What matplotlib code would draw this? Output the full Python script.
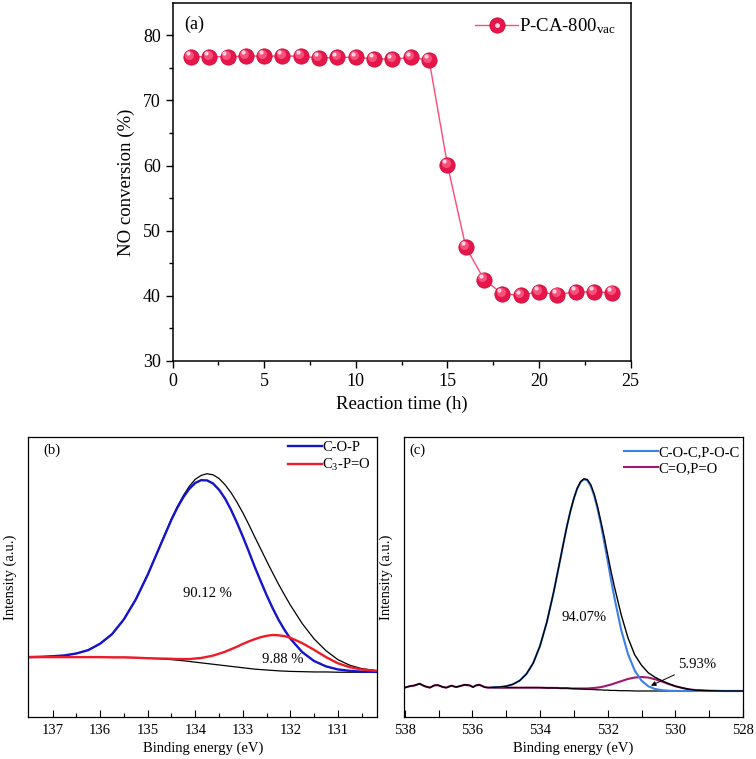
import numpy as np
import matplotlib
matplotlib.use('Agg')
import matplotlib.pyplot as plt
import matplotlib.transforms as mtransforms

plt.rcParams['font.family'] = ['Liberation Serif', 'DejaVu Serif']
plt.rcParams['mathtext.fontset'] = 'custom'
plt.rcParams['mathtext.rm'] = 'Liberation Serif'
plt.rcParams['mathtext.it'] = 'Liberation Serif:italic'

# (a) NO conversion vs reaction time
time_h = [1, 2, 3, 4, 5, 6, 7, 8, 9, 10, 11, 12, 13, 14, 15, 16, 17, 18, 19, 20, 21, 22, 23, 24]
no_conv = [76.7, 76.7, 76.7, 76.8, 76.8, 76.8, 76.8, 76.5, 76.6, 76.6, 76.4, 76.3,
           76.6, 76.2, 60.1, 47.5, 42.5, 40.3, 40.1, 40.6, 40.2, 40.6, 40.6, 40.5]

# (b) P 2p fit (intensity in arbitrary units, 0..1 of the axis)
be_b = [137.5, 137.25, 137.0, 136.75, 136.5, 136.25, 136.0, 135.75, 135.5, 135.25,
        135.0, 134.75, 134.5, 134.375, 134.25, 134.125, 134.0, 133.875, 133.75, 133.625,
        133.5, 133.375, 133.25, 133.125, 133.0, 132.875, 132.75, 132.625, 132.5, 132.375,
        132.25, 132.125, 132.0, 131.75, 131.5, 131.25, 131.0, 130.75, 130.5, 130.15]
bg_b = [0.214, 0.214, 0.214, 0.214, 0.214, 0.214, 0.214, 0.213, 0.213, 0.212,
        0.210, 0.208, 0.205, 0.203, 0.201, 0.1985, 0.196, 0.1935, 0.191, 0.1885,
        0.186, 0.1835, 0.181, 0.1785, 0.176, 0.1735, 0.171, 0.1695, 0.168, 0.1665,
        0.165, 0.164, 0.163, 0.162, 0.161, 0.161, 0.160, 0.160, 0.160, 0.160]
cop_b = [0.214, 0.215, 0.217, 0.220, 0.227, 0.239, 0.262, 0.296, 0.349, 0.420,
         0.508, 0.607, 0.705, 0.748, 0.785, 0.815, 0.836, 0.846, 0.845, 0.834,
         0.812, 0.781, 0.741, 0.695, 0.645, 0.592, 0.537, 0.486, 0.436, 0.390,
         0.348, 0.312, 0.280, 0.232, 0.200, 0.181, 0.170, 0.165, 0.162, 0.161]
c3po_b = [0.214, 0.214, 0.214, 0.214, 0.214, 0.214, 0.214, 0.213, 0.213, 0.212,
          0.210, 0.209, 0.208, 0.207, 0.207, 0.207, 0.209, 0.211, 0.215, 0.2195,
          0.226, 0.233, 0.242, 0.251, 0.261, 0.270, 0.278, 0.285, 0.290, 0.293,
          0.292, 0.289, 0.283, 0.264, 0.240, 0.214, 0.192, 0.178, 0.170, 0.164]
env_b = [0.214, 0.215, 0.217, 0.220, 0.227, 0.239, 0.262, 0.296, 0.349, 0.420,
         0.508, 0.608, 0.708, 0.752, 0.791, 0.824, 0.849, 0.863, 0.869, 0.865,
         0.852, 0.830, 0.802, 0.768, 0.730, 0.688, 0.644, 0.601, 0.558, 0.516,
         0.475, 0.437, 0.400, 0.334, 0.279, 0.237, 0.205, 0.185, 0.173, 0.165]

# (c) O 1s fit
be_c_noise = [538.0, 537.85, 537.7, 537.56, 537.41, 537.26, 537.12, 537.02, 536.87, 536.77,
              536.62, 536.48, 536.38, 536.23, 536.08, 535.98, 535.89, 535.79, 535.64, 535.54]
noise_c = [0.105, 0.110, 0.113, 0.119, 0.110, 0.105, 0.113, 0.114, 0.107, 0.105,
           0.112, 0.107, 0.110, 0.115, 0.113, 0.107, 0.113, 0.115, 0.107, 0.105]
be_c = [535.4, 535.2, 535.0, 534.8, 534.6, 534.4, 534.2, 534.0, 533.8, 533.6,
        533.5, 533.4, 533.3, 533.2, 533.1, 533.0, 532.9, 532.8, 532.7, 532.6,
        532.5, 532.4, 532.3, 532.2, 532.1, 532.0, 531.9, 531.8, 531.6, 531.4,
        531.2, 531.0, 530.8, 530.6, 530.4, 530.2, 530.0, 529.8, 529.6, 529.4,
        529.2, 529.0, 528.6, 528.2, 528.0]
bg_c = [0.105, 0.105, 0.105, 0.105, 0.105, 0.105, 0.105, 0.105, 0.104, 0.104,
        0.1036, 0.103, 0.1029, 0.103, 0.102, 0.101, 0.1008, 0.100, 0.0996, 0.099,
        0.0983, 0.098, 0.0971, 0.097, 0.096, 0.096, 0.095, 0.095, 0.094, 0.094,
        0.093, 0.093, 0.093, 0.093, 0.093, 0.093, 0.093, 0.093, 0.093, 0.093,
        0.093, 0.093, 0.093, 0.093, 0.093]
coc_c = [0.106, 0.107, 0.110, 0.117, 0.130, 0.154, 0.193, 0.254, 0.338, 0.444,
         0.504, 0.564, 0.625, 0.684, 0.736, 0.780, 0.816, 0.839, 0.849, 0.845,
         0.825, 0.791, 0.744, 0.688, 0.624, 0.558, 0.490, 0.426, 0.311, 0.225,
         0.166, 0.130, 0.110, 0.100, 0.096, 0.094, 0.093, 0.093, 0.093, 0.093,
         0.093, 0.093, 0.093, 0.093, 0.093]
co_c = [0.105, 0.105, 0.105, 0.105, 0.105, 0.105, 0.105, 0.105, 0.104, 0.104,
        0.104, 0.103, 0.103, 0.103, 0.102, 0.102, 0.102, 0.102, 0.102, 0.102,
        0.103, 0.104, 0.105, 0.107, 0.1095, 0.113, 0.116, 0.120, 0.128, 0.136,
        0.141, 0.143, 0.141, 0.135, 0.127, 0.118, 0.110, 0.104, 0.099, 0.096,
        0.095, 0.094, 0.093, 0.093, 0.093]
env_c = [0.106, 0.107, 0.110, 0.117, 0.130, 0.154, 0.193, 0.254, 0.338, 0.444,
         0.504, 0.564, 0.625, 0.684, 0.736, 0.781, 0.817, 0.841, 0.851, 0.848,
         0.830, 0.797, 0.752, 0.698, 0.642, 0.580, 0.520, 0.465, 0.365, 0.283,
         0.222, 0.185, 0.158, 0.142, 0.130, 0.119, 0.110, 0.104, 0.099, 0.096,
         0.095, 0.094, 0.093, 0.093, 0.093]

fig = plt.figure(figsize=(7.56, 7.59), dpi=100)

# ---------------- (a) ----------------
ax1 = fig.add_axes([0.2282, 0.5244, 0.6061, 0.4721])
pink = '#ff4a78'
ax1.plot(time_h, no_conv, '-', color=pink, lw=1.0, zorder=1)
ax1.plot(time_h, no_conv, 'o', ms=11, color='#e6154a', mec='#d0103e', mew=0.6, zorder=2)
off1 = mtransforms.ScaledTranslation(-1.2 / 72, 1.5 / 72, fig.dpi_scale_trans)
off2 = mtransforms.ScaledTranslation(-2.2 / 72, 2.6 / 72, fig.dpi_scale_trans)
ax1.plot(time_h, no_conv, 'o', ms=6.5, color='#f6507c', mew=0,
         transform=ax1.transData + off1, zorder=3)
ax1.plot(time_h, no_conv, 'o', ms=3.0, color='#ffd6e2', mew=0,
         transform=ax1.transData + off2, zorder=4)

leg_line = plt.Line2D([], [], color=pink, lw=1.0, marker='o', ms=11,
                      mfc='#e6154a', mec='#d0103e', mew=0.6)
leg_hi = plt.Line2D([], [], ls='none', marker='o', ms=3.5, color='#ffd6e2', mew=0)
ax1.legend([(leg_line, leg_hi)], ['P-CA-800$_{\\mathrm{vac}}$'], loc='upper right',
           bbox_to_anchor=(0.968, 0.962), frameon=False, fontsize=13.5, borderpad=0,
           borderaxespad=0, handlelength=2.3, handletextpad=0.05, numpoints=1)

ax1.set_xlim(0, 25)
ax1.set_ylim(30, 85)
ax1.set_xticks([0, 5, 10, 15, 20, 25])
ax1.set_xticks([2.5, 7.5, 12.5, 17.5, 22.5], minor=True)
ax1.set_yticks([30, 40, 50, 60, 70, 80])
ax1.set_yticks([35, 45, 55, 65, 75], minor=True)
ax1.tick_params(which='both', direction='out', labelsize=13, width=1.0)
ax1.tick_params(which='major', length=5)
ax1.tick_params(which='minor', length=3)
for s in ax1.spines.values():
    s.set_linewidth(1.1)
ax1.set_xlabel('Reaction time (h)', fontsize=13.5, labelpad=4)
ax1.set_ylabel('NO conversion (%)', fontsize=13.5, labelpad=6)
ax1.text(0.025, 0.94, '(a)', transform=ax1.transAxes, fontsize=13, va='center')

# ---------------- (b) ----------------
ax2 = fig.add_axes([0.0375, 0.0553, 0.4616, 0.3689])
ax2.plot(be_b, bg_b, color='black', lw=0.9)
ax2.plot(be_b, env_b, color='black', lw=0.9)
ax2.plot(be_b, cop_b, color='#1414c8', lw=1.7, label='C-O-P')
ax2.plot(be_b, c3po_b, color='#f01a28', lw=1.7, label='C$_3$-P=O')
ax2.set_xlim(137.51, 130.17)
ax2.set_ylim(0, 1)
ax2.set_yticks([])
ax2.set_xticks([137, 136, 135, 134, 133, 132, 131])
ax2.set_xticks([136.5, 135.5, 134.5, 133.5, 132.5, 131.5, 130.5], minor=True)
ax2.tick_params(which='both', direction='in', labelsize=10.5, width=0.8, pad=5)
ax2.tick_params(which='major', length=5)
ax2.tick_params(which='minor', length=3)
ax2.set_xlabel('Binding energy (eV)', fontsize=10.5, labelpad=3)
ax2.set_ylabel('Intensity (a.u.)', fontsize=10.5, labelpad=8)
ax2.text(0.044, 0.953, '(b)', transform=ax2.transAxes, fontsize=10.5, va='center')
ax2.text(133.75, 0.44, '90.12 %', fontsize=10.5, ha='center', va='center')
ax2.text(132.15, 0.205, '9.88 %', fontsize=10.5, ha='center', va='center')
ax2.legend(loc='upper left', bbox_to_anchor=(0.744, 0.985), frameon=False,
           fontsize=10.5, borderpad=0, borderaxespad=0, handlelength=2.3,
           handletextpad=0.05, labelspacing=0.2)

# ---------------- (c) ----------------
ax3 = fig.add_axes([0.5344, 0.0553, 0.4484, 0.3689])
ax3.plot(be_c_noise + be_c, noise_c + co_c, color='#a0186e', lw=1.5, zorder=2)
ax3.plot(be_c, bg_c, color='black', lw=0.9, zorder=3)
ax3.plot(be_c, coc_c, color='#3a80e6', lw=1.5, zorder=3)
ax3.plot(be_c_noise + be_c, noise_c + env_c, color='black', lw=1.0, zorder=4)
ax3.plot([], [], color='#3a80e6', lw=1.5, label='C-O-C,P-O-C')
ax3.plot([], [], color='#a0186e', lw=1.5, label='C=O,P=O')
ax3.set_xlim(538.02, 528.0)
ax3.set_ylim(0, 1)
ax3.set_yticks([])
ax3.set_xticks([538, 536, 534, 532, 530, 528])
ax3.set_xticks([537, 535, 533, 531, 529], minor=True)
ax3.tick_params(which='both', direction='in', labelsize=10.5, width=0.8, pad=5)
ax3.tick_params(which='major', length=5)
ax3.tick_params(which='minor', length=5)
ax3.set_xlabel('Binding energy (eV)', fontsize=10.5, labelpad=3)
ax3.set_ylabel('Intensity (a.u.)', fontsize=10.5, labelpad=8)
ax3.text(0.015, 0.953, '(c)', transform=ax3.transAxes, fontsize=10.5, va='center')
ax3.text(532.69, 0.357, '94.07%', fontsize=10.5, ha='center', va='center')
ax3.annotate('5.93%', xy=(530.72, 0.112), xytext=(529.36, 0.188), fontsize=10.5,
             ha='center', va='center',
             arrowprops=dict(arrowstyle='-|>', color='black', lw=0.7,
                             mutation_scale=7, shrinkA=2, shrinkB=0))
ax3.legend(loc='upper left', bbox_to_anchor=(0.649, 0.968), frameon=False,
           fontsize=10.5, borderpad=0, borderaxespad=0, handlelength=2.3,
           handletextpad=0.05, labelspacing=0.2)

for ax in (ax2, ax3):
    for s in ax.spines.values():
        s.set_linewidth(0.9)

fig.savefig('out.png', dpi=100)
